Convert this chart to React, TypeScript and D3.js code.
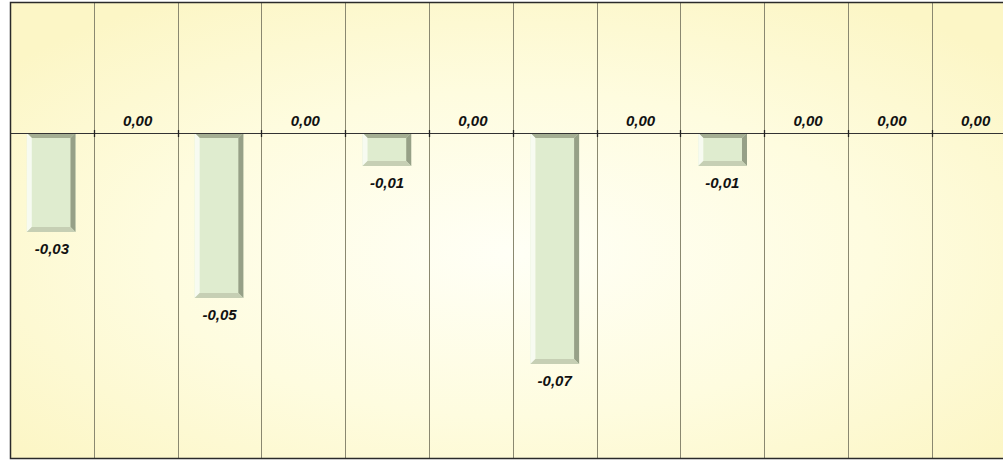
import { useEffect, useRef } from 'react';
import * as d3 from 'd3';

const WIDTH = 1003;
const HEIGHT = 461;

const PLOT = { left: 10, top: 2, bottom: 459, right: 1015.6 };

const categories = ['1', '2', '3', '4', '5', '6', '7', '8', '9', '10', '11', '12'];
const values = [-0.03, 0, -0.05, 0, -0.01, 0, -0.07, 0, -0.01, 0, 0, 0];

const BEVEL = 5;

const locale = d3.formatLocale({
  decimal: ',', thousands: '.', grouping: [3], currency: ['', ''], minus: '-',
});
const fmt = locale.format('.2f');

function App() {
  const svgRef = useRef(null);

  useEffect(() => {
    const svg = d3.select(svgRef.current);
    svg.selectAll('*').remove();

    const defs = svg.append('defs');
    const grad = defs.append('radialGradient')
      .attr('id', 'bg')
      .attr('cx', '50%').attr('cy', '55%')
      .attr('r', '65%');
    grad.append('stop').attr('offset', '0%').attr('stop-color', '#fffff6');
    grad.append('stop').attr('offset', '55%').attr('stop-color', '#fefcdf');
    grad.append('stop').attr('offset', '100%').attr('stop-color', '#fcf6c6');

    const cat = d3.scaleBand()
      .domain(categories)
      .range([PLOT.left, PLOT.right]);

    const x = d3.scaleBand()
      .domain(categories)
      .range([PLOT.left, PLOT.right])
      .paddingInner(0.42)
      .paddingOuter(0.2);

    const y = d3.scaleLinear()
      .domain([-0.0988, 0.0397])
      .range([PLOT.bottom, PLOT.top]);

    svg.append('rect')
      .attr('x', PLOT.left)
      .attr('y', PLOT.top)
      .attr('width', PLOT.right - PLOT.left)
      .attr('height', PLOT.bottom - PLOT.top)
      .attr('fill', 'url(#bg)');

    // vertical grid between categories
    svg.append('g')
      .selectAll('line')
      .data(categories.slice(1))
      .join('line')
      .attr('x1', (d) => Math.round(cat(d) || 0) + 0.5)
      .attr('x2', (d) => Math.round(cat(d) || 0) + 0.5)
      .attr('y1', PLOT.top)
      .attr('y2', PLOT.bottom)
      .attr('stroke', '#8a8870')
      .attr('stroke-width', 1);

    const y0 = y(0);

    // bars with bevel
    const data = categories.map((c, i) => ({ c, v: values[i] }));
    const bars = svg.append('g')
      .selectAll('g')
      .data(data.filter((d) => d.v !== 0))
      .join('g');

    const face = (d) => {
      const x0 = x(d.c) || 0;
      const x1 = x0 + x.bandwidth();
      const top = Math.min(y(d.v), y0);
      const bot = Math.max(y(d.v), y0);
      return { x0, x1, top, bot };
    };

    bars.append('rect')
      .attr('x', (d) => face(d).x0)
      .attr('y', (d) => face(d).top)
      .attr('width', x.bandwidth())
      .attr('height', (d) => face(d).bot - face(d).top)
      .attr('fill', '#dfeccf');

    const sides = [
      { name: 'top', color: '#a4ae93' },
      { name: 'left', color: '#f7fbf1' },
      { name: 'right', color: '#96a087' },
      { name: 'bottom', color: '#c6cfb4' },
    ];

    sides.forEach((s) => {
      bars.append('polygon')
        .attr('fill', s.color)
        .attr('points', (d) => {
          const { x0, x1, top, bot } = face(d);
          const b = BEVEL;
          let pts: number[][] = [];
          if (s.name === 'top') pts = [[x0, top], [x1, top], [x1 - b, top + b], [x0 + b, top + b]];
          if (s.name === 'left') pts = [[x0, top], [x0 + b, top + b], [x0 + b, bot - b], [x0, bot]];
          if (s.name === 'right') pts = [[x1, top], [x1, bot], [x1 - b, bot - b], [x1 - b, top + b]];
          if (s.name === 'bottom') pts = [[x0, bot], [x0 + b, bot - b], [x1 - b, bot - b], [x1, bot]];
          return pts.map((p) => p.join(',')).join(' ');
        });
    });

    // zero line
    svg.append('line')
      .attr('x1', PLOT.left)
      .attr('x2', PLOT.right)
      .attr('y1', Math.round(y0) + 0.5)
      .attr('y2', Math.round(y0) + 0.5)
      .attr('stroke', '#333')
      .attr('stroke-width', 1.2);

    // small ticks at zero line
    svg.append('g')
      .selectAll('line')
      .data(categories.slice(1))
      .join('line')
      .attr('x1', (d) => Math.round(cat(d) || 0) + 0.5)
      .attr('x2', (d) => Math.round(cat(d) || 0) + 0.5)
      .attr('y1', y0 - 3)
      .attr('y2', y0 + 4)
      .attr('stroke', '#222')
      .attr('stroke-width', 1.3);

    // value labels
    svg.append('g')
      .selectAll('text')
      .data(data)
      .join('text')
      .attr('x', (d) => (cat(d.c) || 0) + cat.bandwidth() / 2 + (d.v === 0 ? 2 : 0))
      .attr('y', (d) => (d.v >= 0 ? y(d.v) - 7 : y(d.v) + 22))
      .attr('text-anchor', 'middle')
      .attr('font-family', 'Liberation Sans, Arial, sans-serif')
      .attr('font-weight', 'bold')
      .attr('font-style', 'italic')
      .attr('font-size', 15)
      .attr('fill', '#111')
      .text((d) => fmt(d.v));

    // border
    svg.append('path')
      .attr('d', `M${PLOT.right},${PLOT.top + 0.5} H${PLOT.left + 0.5} V${PLOT.bottom - 0.5} H${PLOT.right}`)
      .attr('fill', 'none')
      .attr('stroke', '#2a2a2a')
      .attr('stroke-width', 1.5);
  }, []);

  return (
    <svg
      ref={svgRef}
      width={WIDTH}
      height={HEIGHT}
      viewBox={`0 0 ${WIDTH} ${HEIGHT}`}
      style={{ position: 'absolute', left: 0, top: 0, background: '#fff' }}
    />
  );
}

export default App;
